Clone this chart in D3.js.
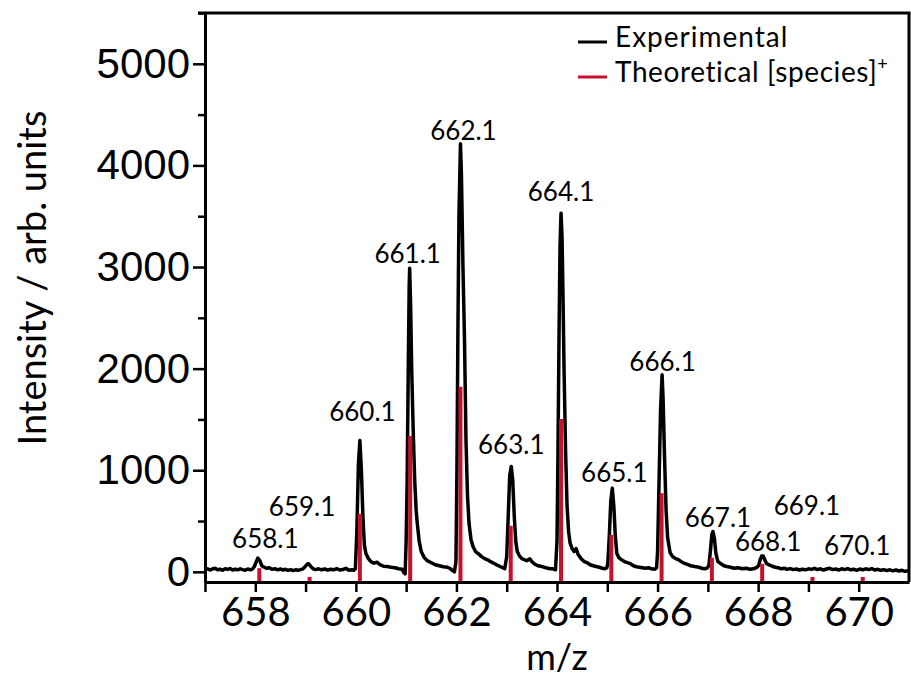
<!DOCTYPE html>
<html>
<head>
<meta charset="utf-8">
<script src="https://cdn.jsdelivr.net/npm/d3@7"></script>
<style>
  body { margin: 0; background: #fff; }
  svg { display: block; }
</style>
</head>
<body>
<script>
// experimental trace, [m/z, intensity]
var experimental = [
  [657.00, 22], [657.05, 30], [657.10, 18], [657.15, 28], [657.20, 35], [657.25, 20],
  [657.30, 26], [657.35, 15], [657.40, 30], [657.45, 24], [657.50, 32], [657.55, 18],
  [657.60, 25], [657.65, 20], [657.70, 30], [657.75, 22], [657.80, 16], [657.85, 28],
  [657.90, 20], [657.95, 30],
  [657.98, 50], [658.02, 100], [658.05, 135], [658.09, 110], [658.13, 60], [658.18, 45],
  [658.22, 35], [658.28, 40], [658.33, 25], [658.40, 30], [658.45, 20], [658.50, 28],
  [658.55, 18], [658.60, 25], [658.65, 15], [658.70, 22], [658.75, 12], [658.80, 20],
  [658.85, 15], [658.90, 22], [658.95, 30],
  [658.99, 50], [659.03, 75], [659.06, 80], [659.10, 55], [659.15, 30], [659.20, 22],
  [659.26, 30], [659.32, 20], [659.38, 28], [659.44, 18], [659.50, 25], [659.56, 20],
  [659.62, 32], [659.68, 18], [659.74, 22], [659.80, 35], [659.86, 15], [659.92, 20],
  [659.96, 15],
  [659.99, 30], [660.02, 400], [660.05, 1050], [660.08, 1292], [660.11, 1000], [660.14, 550],
  [660.17, 260], [660.20, 180], [660.25, 130], [660.30, 100], [660.36, 85], [660.42, 95],
  [660.48, 70], [660.55, 55], [660.62, 52], [660.70, 45], [660.78, 40], [660.85, 30],
  [660.92, 25], [660.96, -10], [660.98, -20],
  [661.00, 300], [661.02, 900], [661.04, 1900], [661.06, 2800], [661.07, 2989], [661.09, 2600],
  [661.11, 2000], [661.14, 1400], [661.17, 900], [661.20, 600], [661.22, 482], [661.26, 300],
  [661.30, 200], [661.36, 140], [661.42, 110], [661.50, 90], [661.58, 70], [661.66, 60],
  [661.74, 50], [661.82, 45], [661.88, 30], [661.93, 10], [661.96, 0],
  [661.99, 100], [662.01, 1000], [662.03, 2400], [662.05, 3500], [662.08, 4213], [662.10, 3900],
  [662.13, 3000], [662.16, 2300], [662.19, 1300], [662.22, 750], [662.25, 480], [662.29, 315],
  [662.33, 250], [662.38, 200], [662.44, 177], [662.50, 150], [662.56, 130], [662.62, 118],
  [662.68, 100], [662.74, 85], [662.80, 69], [662.86, 55], [662.92, 40], [662.96, 30],
  [663.00, 150], [663.03, 550], [663.06, 950], [663.09, 1037], [663.12, 900], [663.15, 550],
  [663.18, 300], [663.21, 200], [663.25, 160], [663.30, 130], [663.35, 120], [663.40, 110],
  [663.46, 128], [663.50, 100], [663.56, 75], [663.62, 60], [663.70, 52], [663.78, 40],
  [663.86, 30], [663.92, 30], [663.97, 20],
  [664.00, 300], [664.02, 1200], [664.04, 2300], [664.06, 3200], [664.08, 3530], [664.10, 3300],
  [664.12, 2700], [664.14, 2000], [664.17, 1200], [664.20, 650], [664.23, 400], [664.26, 285],
  [664.30, 230], [664.34, 200], [664.38, 230], [664.42, 170], [664.48, 130], [664.54, 101],
  [664.60, 90], [664.66, 70], [664.72, 60], [664.78, 52], [664.84, 45], [664.90, 35],
  [664.95, 30], [664.99, 40],
  [665.01, 80], [665.04, 350], [665.07, 700], [665.10, 824], [665.13, 650], [665.16, 350],
  [665.19, 180], [665.23, 140], [665.28, 120], [665.34, 101], [665.40, 90], [665.46, 80],
  [665.52, 60], [665.58, 50], [665.64, 45], [665.70, 40], [665.76, 35], [665.82, 40],
  [665.88, 30], [665.94, 25], [665.98, 40],
  [666.00, 200], [666.03, 900], [666.06, 1600], [666.09, 1939], [666.11, 1700], [666.14, 1100],
  [666.17, 600], [666.20, 335], [666.25, 187], [666.30, 150], [666.36, 130], [666.42, 118],
  [666.50, 90], [666.58, 75], [666.66, 60], [666.74, 52], [666.82, 45], [666.88, 35],
  [666.94, 30], [666.99, 40],
  [667.02, 60], [667.05, 200], [667.08, 370], [667.10, 397], [667.13, 330], [667.16, 180],
  [667.20, 101], [667.26, 80], [667.32, 60], [667.38, 52], [667.45, 45], [667.52, 35],
  [667.60, 40], [667.68, 30], [667.76, 35], [667.84, 25], [667.90, 30], [667.96, 40],
  [668.01, 60], [668.04, 120], [668.07, 155], [668.10, 157], [668.13, 120], [668.17, 80],
  [668.22, 69], [668.28, 55], [668.34, 45], [668.40, 40], [668.46, 30], [668.52, 35],
  [668.58, 25], [668.64, 32], [668.70, 22], [668.76, 28], [668.82, 18], [668.88, 25],
  [668.94, 20], [669.00, 30], [669.06, 24], [669.12, 35], [669.18, 22], [669.24, 30],
  [669.30, 18], [669.36, 28], [669.42, 35], [669.48, 22], [669.54, 28], [669.60, 18],
  [669.66, 30], [669.72, 22], [669.78, 32], [669.84, 20], [669.90, 26], [669.96, 15],
  [670.02, 28], [670.08, 20], [670.14, 30], [670.20, 22], [670.26, 32], [670.32, 18],
  [670.38, 25], [670.44, 15], [670.50, 22], [670.56, 12], [670.62, 20], [670.68, 10],
  [670.74, 18], [670.80, 8], [670.86, 15], [670.92, 5], [671.00, 12]
];

// theoretical isotope pattern (stick spectrum)
var theoMz = [658.08, 659.08, 660.08, 661.08, 662.08, 663.08, 664.08,
              665.08, 666.08, 667.08, 668.08, 669.08, 670.08];
var theoIntensity = [36, -50, 571, 1338, 1821, 453, 1503, 364, 775, 138, 79, -50, -50];

// peak annotations (anchored in data units)
var peakLabels = ["658.1", "659.1", "660.1", "661.1", "662.1", "663.1", "664.1",
                  "665.1", "666.1", "667.1", "668.1", "669.1", "670.1"];
var labelMz = [658.20, 658.93, 660.13, 661.03, 662.14, 663.09, 664.08,
               665.14, 666.10, 667.20, 668.20, 668.97, 669.97];
var labelIntensity = [236, 551, 1486, 3041, 4252, 1161, 3652, 886, 1978, 443, 207, 561, 167];

var yMajor = [0, 1000, 2000, 3000, 4000, 5000];
var yMinor = [500, 1500, 2500, 3500, 4500, 5500];
var xTicks = [657, 658, 659, 660, 661, 662, 663, 664, 665, 666, 667, 668, 669, 670];

var width = 911,
    height = 684;

var svg = d3.select("body").append("svg")
    .attr("width", width)
    .attr("height", height);

var x = d3.scaleLinear().domain([657, 671]).range([205, 909]);
var y = d3.scaleLinear().domain([-100, 5500]).range([582, 13]);

var sans = "Lato, 'Open Sans', sans-serif";

svg.append("clipPath").attr("id", "plot")
  .append("rect")
    .attr("x", x(657)).attr("y", y(5500))
    .attr("width", x(671) - x(657)).attr("height", y(-100) - y(5500));

// frame top and right
svg.append("line")
    .attr("x1", x(657) - 7).attr("x2", x(671) + 1.5)
    .attr("y1", y(5500)).attr("y2", y(5500))
    .attr("stroke", "#000").attr("stroke-width", 3);
svg.append("line")
    .attr("x1", x(671)).attr("x2", x(671))
    .attr("y1", y(5500)).attr("y2", y(-100))
    .attr("stroke", "#000").attr("stroke-width", 3);

var line = d3.line()
    .x(function(d) { return x(d[0]); })
    .y(function(d) { return y(d[1]); });

svg.append("path")
    .datum(experimental)
    .attr("clip-path", "url(#plot)")
    .attr("fill", "none")
    .attr("stroke", "#000")
    .attr("stroke-width", 3.5)
    .attr("stroke-linejoin", "round")
    .attr("d", line);

svg.append("g")
    .attr("clip-path", "url(#plot)")
    .selectAll("line")
    .data(theoMz)
    .enter().append("line")
    .attr("x1", function(d) { return x(d); })
    .attr("x2", function(d) { return x(d); })
    .attr("y1", y(-100))
    .attr("y2", function(d, i) { return y(theoIntensity[i]); })
    .attr("stroke", "#c8102e")
    .attr("stroke-width", 4);

// axes
var yAxis = svg.append("g")
    .attr("transform", "translate(" + x(657) + ",0)")
    .call(d3.axisLeft(y).tickValues(yMajor).tickSize(12).tickSizeOuter(0).tickPadding(3)
      .tickFormat(d3.format("d")));
svg.append("g")
    .attr("transform", "translate(" + x(657) + ",0)")
    .call(d3.axisLeft(y).tickValues(yMinor).tickSize(7).tickSizeOuter(0).tickFormat(""))
    .select(".domain").remove();

var xAxis = svg.append("g")
    .attr("transform", "translate(0," + y(-100) + ")")
    .call(d3.axisBottom(x).tickValues(xTicks).tickSize(10).tickSizeOuter(0).tickPadding(6)
      .tickFormat(function(d) { return d % 2 === 0 ? d : ""; }));

svg.selectAll(".domain").attr("stroke-width", 3);
svg.selectAll(".tick line").attr("stroke-width", 2.5);

yAxis.selectAll("text")
    .attr("font-family", "'Liberation Sans', Arial, sans-serif")
    .attr("font-size", 42)
    .attr("fill", "#000");
xAxis.selectAll("text")
    .attr("font-family", sans)
    .attr("font-size", 40)
    .attr("fill", "#000");

// peak labels
svg.append("g")
    .selectAll("text")
    .data(peakLabels)
    .enter().append("text")
    .attr("x", function(d, i) { return x(labelMz[i]); })
    .attr("y", function(d, i) { return y(labelIntensity[i]); })
    .attr("text-anchor", "middle")
    .attr("font-family", sans)
    .attr("font-size", 26)
    .text(function(d) { return d; });

// axis titles
svg.append("text")
    .attr("transform", "translate(33,278) rotate(-90)")
    .attr("text-anchor", "middle")
    .attr("dy", "0.35em")
    .attr("font-family", sans)
    .attr("font-size", 38)
    .text("Intensity / arb. units");

svg.append("text")
    .attr("x", (x(657) + x(671)) / 2)
    .attr("y", 670)
    .attr("text-anchor", "middle")
    .attr("font-family", sans)
    .attr("font-size", 36)
    .text("m/z");

// legend
var legend = svg.append("g");
legend.append("line")
    .attr("x1", 578).attr("x2", 607).attr("y1", 42).attr("y2", 42)
    .attr("stroke", "#000").attr("stroke-width", 3);
legend.append("text")
    .attr("x", 615).attr("y", 47)
    .attr("font-family", sans).attr("font-size", 28)
    .attr("letter-spacing", 1)
    .text("Experimental");
legend.append("line")
    .attr("x1", 578).attr("x2", 607).attr("y1", 77).attr("y2", 77)
    .attr("stroke", "#c8102e").attr("stroke-width", 3);
var theo = legend.append("text")
    .attr("x", 615).attr("y", 82)
    .attr("font-family", sans).attr("font-size", 28)
    .attr("letter-spacing", 0.6);
theo.append("tspan").text("Theoretical [species]");
theo.append("tspan").attr("font-size", 18).attr("dy", -12).text("+");
</script>
</body>
</html>
